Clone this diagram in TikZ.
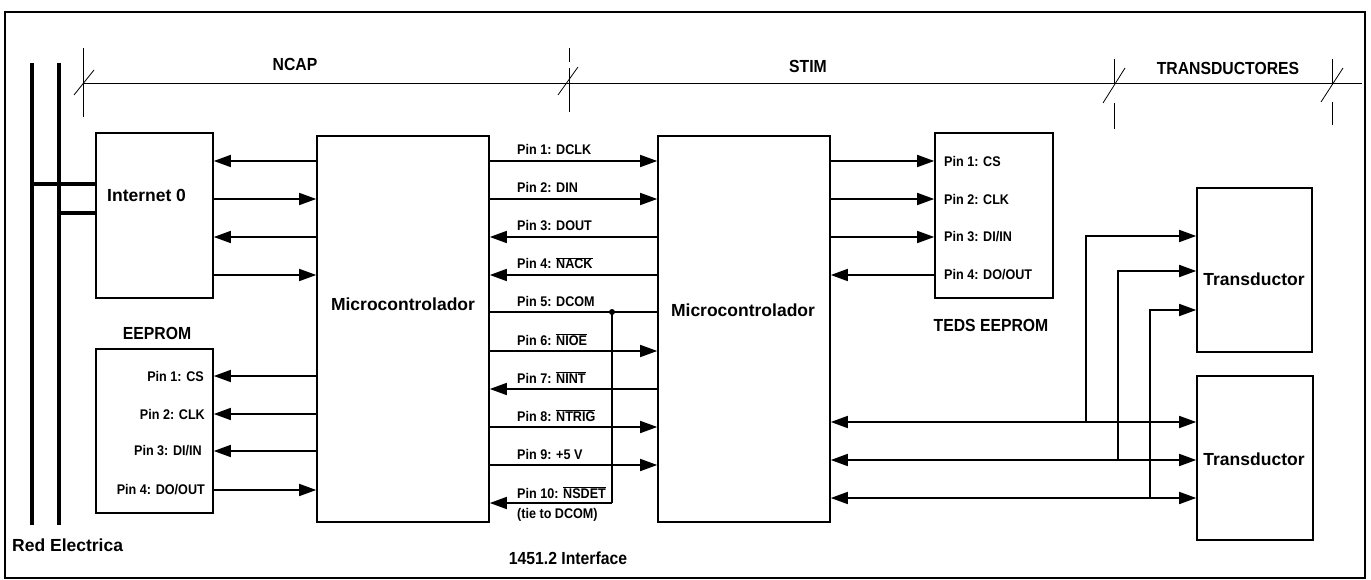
\documentclass[tikz,border=0pt]{standalone}
\usepackage{fontspec}
\setmainfont{Liberation Sans}
\newfontfamily\narrow[FakeStretch=0.9]{Liberation Sans}
\usetikzlibrary{arrows.meta}
\begin{document}
\begin{tikzpicture}[x=1pt,y=-1pt,
  box/.style={draw,line width=1.6pt,inner sep=0pt},
  arr/.style={line width=1.6pt,-{Triangle[length=17pt,width=12pt]}},
  barr/.style={line width=1.6pt,{Triangle[length=17pt,width=12pt]}-{Triangle[length=17pt,width=12pt]}},
  wire/.style={line width=1.6pt},
  rail/.style={line width=3.5pt},
  big/.style={font=\bfseries\fontsize{17.5}{20}\selectfont,inner sep=0pt},
  head/.style={font=\narrow\bfseries\fontsize{17.5}{20}\selectfont,inner sep=0pt},
  pin/.style={font=\narrow\bfseries\fontsize{14}{15}\selectfont,inner sep=0pt},
  dim/.style={line width=0.8pt}]
\useasboundingbox (0,0) rectangle (1371,580);
\fill[white] (0,0) rectangle (1371,580);
\draw[line width=1.5pt] (5,12) rectangle (1365,578);

% ---- dimension line and ticks
\draw[dim] (83,83.5) -- (1362,83.5);
\draw[dim] (83,48) -- (83,117);   \draw[dim] (74,95) -- (94,70);
\draw[dim] (569,48) -- (569,62);  \draw[dim] (569,68) -- (569,112); \draw[dim] (558,95) -- (578,67);
\draw[dim] (1114,59) -- (1114,84); \draw[dim] (1114,103) -- (1114,129); \draw[dim] (1103,103) -- (1125,68);
\draw[dim] (1332,59) -- (1332,85); \draw[dim] (1332,102) -- (1332,125); \draw[dim] (1321,102) -- (1343,68);
\node[head] (ncap) at (295,64) {NCAP};
\node[head] (stim) at (808,66) {STIM};
\node[head] (trs) at (1228,68) {TRANSDUCTORES};

% ---- boxes
\node[box,minimum width=117pt,minimum height=165pt] (inet) at (154.5,215.5) {};
\node[box,minimum width=117pt,minimum height=164pt] (eep) at (154.5,431) {};
\node[box,minimum width=172pt,minimum height=386pt] (m1) at (403,329) {};
\node[box,minimum width=172pt,minimum height=386pt] (m2) at (744,329) {};
\node[box,minimum width=118pt,minimum height=165pt] (teds) at (994,215.5) {};
\node[box,minimum width=115pt,minimum height=164pt] (t1) at (1254.5,270) {};
\node[box,minimum width=116pt,minimum height=164pt] (t2) at (1255,458) {};

\node[big,anchor=west] (inettxt) at (107,195) {Internet 0};
\node[big] (m1txt) at (403,304) {Microcontrolador};
\node[big] (m2txt) at (743,310) {Microcontrolador};
\node[big] (t1txt) at (1254,279) {Transductor};
\node[big] (t2txt) at (1254,459) {Transductor};
\node[head] (eeptxt) at (157,333) {EEPROM};
\node[head] (tedstxt) at (991,325) {TEDS EEPROM};
\node[head] (iftxt) at (568,558) {1451.2 Interface};
\node[big,anchor=west] (red) at (12,545) {Red Electrica};

% ---- power rails
\coordinate (r1t) at (32,63); \coordinate (r1b) at (32,525);
\coordinate (r2t) at (59,63); \coordinate (r2b) at (59,525);
\draw[rail] (r1t) -- (r1b);
\draw[rail] (r2t) -- (r2b);
\draw[rail] (r1t |- 0,184) -- (inet.west |- 0,184);
\draw[rail] (r2t |- 0,213) -- (inet.west |- 0,213);

% ---- Internet 0 <-> micro
\draw[arr] (m1.west |- 0,161) -- (inet.east |- 0,161);
\draw[arr] (inet.east |- 0,199) -- (m1.west |- 0,199);
\draw[arr] (m1.west |- 0,237) -- (inet.east |- 0,237);
\draw[arr] (inet.east |- 0,275) -- (m1.west |- 0,275);

% ---- EEPROM
\draw[arr] (m1.west |- 0,376) -- (eep.east |- 0,376);
\draw[arr] (m1.west |- 0,414) -- (eep.east |- 0,414);
\draw[arr] (m1.west |- 0,451) -- (eep.east |- 0,451);
\draw[arr] (eep.east |- 0,490) -- (m1.west |- 0,490);
\node[pin,anchor=east] (e1) at (204,376) {Pin 1: CS};
\node[pin,anchor=east] (e2) at (205,414) {Pin 2: CLK};
\node[pin,anchor=east] (e3) at (202,451) {Pin 3: DI/IN};
\node[pin,anchor=east] (e4) at (205,490) {Pin 4: DO/OUT};

% ---- 1451.2 interface
\draw[arr] (m1.east |- 0,161) -- (m2.west |- 0,161);
\draw[arr] (m1.east |- 0,199) -- (m2.west |- 0,199);
\draw[arr] (m2.west |- 0,237) -- (m1.east |- 0,237);
\draw[arr] (m2.west |- 0,275) -- (m1.east |- 0,275);
\draw[wire] (m1.east |- 0,312) -- (m2.west |- 0,312);
\draw[arr] (m1.east |- 0,351) -- (m2.west |- 0,351);
\draw[arr] (m2.west |- 0,389) -- (m1.east |- 0,389);
\draw[arr] (m1.east |- 0,427) -- (m2.west |- 0,427);
\draw[arr] (m1.east |- 0,465) -- (m2.west |- 0,465);
\coordinate (j) at (612,312);
\coordinate (jb) at (612,503);
\fill (j) circle (3pt);
\draw[wire] (j) -- (jb);
\draw[arr] (jb) -- (m1.east |- jb);
\node[pin,anchor=base west] (p1) at (517,155) {Pin 1: DCLK};
\node[pin,anchor=base west] (p2) at (517,193) {Pin 2: DIN};
\node[pin,anchor=base west] (p3) at (517,231) {Pin 3: DOUT};
\node[pin,anchor=base west] (p4) at (517,269) {Pin 4: $\overline{\mbox{NACK}}$};
\node[pin,anchor=base west] (p5) at (517,306) {Pin 5: DCOM};
\node[pin,anchor=base west] (p6) at (517,345) {Pin 6: $\overline{\mbox{NIOE}}$};
\node[pin,anchor=base west] (p7) at (517,383) {Pin 7: $\overline{\mbox{NINT}}$};
\node[pin,anchor=base west] (p8) at (517,421) {Pin 8: $\overline{\mbox{NTRIG}}$};
\node[pin,anchor=base west] (p9) at (517,459) {Pin 9: +5 V};
\node[pin,anchor=base west] (p10) at (517,498) {Pin 10: $\overline{\mbox{NSDET}}$};
\node[pin,anchor=base west] (p10b) at (517,518) {(tie to DCOM)};

% ---- TEDS EEPROM
\draw[arr] (m2.east |- 0,161) -- (teds.west |- 0,161);
\draw[arr] (m2.east |- 0,199) -- (teds.west |- 0,199);
\draw[arr] (m2.east |- 0,237) -- (teds.west |- 0,237);
\draw[arr] (teds.west |- 0,275) -- (m2.east |- 0,275);
\node[pin,anchor=west] (t1p) at (944,161) {Pin 1: CS};
\node[pin,anchor=west] (t2p) at (944,199) {Pin 2: CLK};
\node[pin,anchor=west] (t3p) at (944,237) {Pin 3: DI/IN};
\node[pin,anchor=west] (t4p) at (944,275) {Pin 4: DO/OUT};

% ---- transducers
\draw[barr] (m2.east |- 0,422) -- (t2.west |- 0,422);
\draw[barr] (m2.east |- 0,460) -- (t2.west |- 0,460);
\draw[barr] (m2.east |- 0,498) -- (t2.west |- 0,498);
\coordinate (v1) at (1086,422);
\coordinate (v2) at (1118,460);
\coordinate (v3) at (1150,498);
\draw[arr] (v1) |- (t1.west |- 0,236);
\draw[arr] (v2) |- (t1.west |- 0,271);
\draw[arr] (v3) |- (t1.west |- 0,310);
\end{tikzpicture}
\end{document}
